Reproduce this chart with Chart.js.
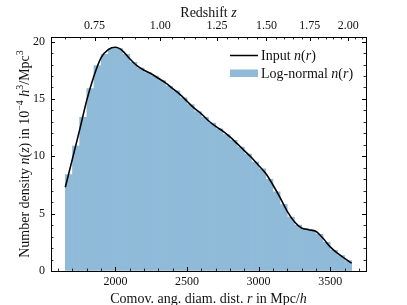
<!DOCTYPE html>
<html><head><meta charset="utf-8">
<script src="https://cdn.jsdelivr.net/npm/chart.js@4.4.1/dist/chart.umd.min.js"></script>
<style>html,body{margin:0;padding:0;background:#fff;} #c{display:block;}</style>
</head><body>
<canvas id="c" width="407" height="305"></canvas>
<script>
// ---- data ----
const binCenters = [1675,1725,1775,1825,1875,1925,1975,2025,2075,2125,2175,2225,2275,2325,2375,2425,2475,2525,2575,2625,
                    2675,2725,2775,2825,2875,2925,2975,3025,3075,3125,3175,3225,3275,3325,3375,3425,3475,3525,3575,3625];
const binHeights = [8.4,10.9,13.4,15.9,17.9,18.9,19.4,19.4,18.9,18.2,17.7,17.3,17.0,16.6,16.1,15.7,15.1,14.5,13.9,13.4,
                    12.9,12.4,11.9,11.4,10.8,10.2,9.5,8.9,8.0,6.9,5.8,4.7,4.0,3.7,3.55,3.2,2.5,1.8,1.35,0.9];
const curveR = [1650,1700,1750,1800,1850,1900,1950,2000,2050,2100,2150,2200,2250,2300,2350,2400,2450,2500,2550,2600,
                2650,2700,2750,2800,2850,2900,2950,3000,3050,3100,3150,3200,3250,3300,3350,3400,3450,3500,3550,3600,3650];
const curveN = [7.3,9.8,12.3,14.9,17.0,18.6,19.3,19.5,19.2,18.5,17.9,17.5,17.2,16.8,16.4,15.9,15.4,14.8,14.2,13.7,
                13.1,12.6,12.2,11.7,11.1,10.5,9.9,9.2,8.5,7.5,6.4,5.2,4.3,3.75,3.6,3.45,2.85,2.1,1.55,1.1,0.68];
const xTickValues = [2000,2500,3000,3500];
const yTickValues = [0,5,10,15,20];
const zTickValues = [0.75,1.00,1.25,1.50,1.75,2.00];
const zTickLabels = ['0.75','1.00','1.25','1.50','1.75','2.00'];

const XMIN = 1550, XMAX = 3750, YMIN = 0, YMAX = 20.4;
const BAR_COLOR = '#8fbbd9';
const SERIF = '"Liberation Serif", "Times New Roman", serif';

// axis transform z -> comoving distance (flat LCDM, Om=0.3, Mpc/h)
function comovingDistance(z){
  const Om = 0.3, n = 400; let s = 0;
  for (let i=0;i<n;i++){ const zz=(i+0.5)*z/n; s += 1/Math.sqrt(Om*Math.pow(1+zz,3)+1-Om); }
  return 2997.92458*s*z/n;
}

function drawRuns(ctx, runs, x, y, size, align, rotate){
  const fontFor = r => `${r.it?'italic ':''}${r.sup?Math.round(size*0.72):size}px ${SERIF}`;
  let w = 0;
  runs.forEach(r=>{ctx.font=fontFor(r); r.w=ctx.measureText(r.t).width; w+=r.w;});
  ctx.save();
  ctx.translate(x,y);
  if (rotate) ctx.rotate(-Math.PI/2);
  ctx.fillStyle='#111'; ctx.textAlign='left'; ctx.textBaseline='alphabetic';
  let px = align==='left' ? 0 : -w/2;
  const base = size*0.33;
  runs.forEach(r=>{ctx.font=fontFor(r); ctx.fillText(r.t, px, base-(r.sup?size*0.42:0)); px+=r.w;});
  ctx.restore();
}

const decorPlugin = {
  id:'decor',
  afterDraw(chart){
    const ctx = chart.ctx, a = chart.chartArea;
    const sx = chart.scales.x, sy = chart.scales.y;
    ctx.save();
    ctx.strokeStyle='#000';
    const tick = (x1,y1,x2,y2,w)=>{ctx.lineWidth=w;ctx.beginPath();ctx.moveTo(x1,y1);ctx.lineTo(x2,y2);ctx.stroke();};
    const MAJ=4, MIN=2.5;
    // bottom
    for (let v=1600; v<=3700; v+=100){
      const major = xTickValues.includes(v);
      const p = Math.round(sx.getPixelForValue(v))+0.5;
      tick(p,a.bottom,p,a.bottom-(major?MAJ:MIN),major?1:0.8);
    }
    // top (redshift)
    for (let k=13; k<=43; k++){
      const z = k*0.05;
      const r = comovingDistance(z);
      if (r<XMIN || r>XMAX) continue;
      const major = zTickValues.some(t=>Math.abs(t-z)<1e-6);
      const p = Math.round(sx.getPixelForValue(r))+0.5;
      tick(p,a.top,p,a.top+(major?MAJ:MIN),major?1:0.8);
    }
    // left & right
    for (let v=0; v<=20; v+=1){
      const major = yTickValues.includes(v);
      const p = Math.round(sy.getPixelForValue(v))+0.5;
      tick(a.left,p,a.left+(major?MAJ:MIN),p,major?1:0.8);
      tick(a.right,p,a.right-(major?MAJ:MIN),p,major?1:0.8);
    }
    ctx.restore();
    // axis titles
    drawRuns(ctx,[{t:'Comov. ang. diam. dist. '},{t:'r',it:1},{t:' in Mpc/'},{t:'h',it:1}],
             (a.left+a.right)/2, 298, 14, 'center', false);
    drawRuns(ctx,[{t:'Redshift '},{t:'z',it:1}], (a.left+a.right)/2, 12, 14, 'center', false);
    drawRuns(ctx,[{t:'Number density '},{t:'n',it:1},{t:'('},{t:'z',it:1},{t:') in 10'},{t:'\u22124',sup:1},
                  {t:' '},{t:'h',it:1},{t:'3',sup:1},{t:'/Mpc'},{t:'3',sup:1}],
             24, (a.top+a.bottom)/2, 14, 'center', true);
    // legend
    ctx.save();
    ctx.strokeStyle='#000'; ctx.lineWidth=1.5;
    ctx.beginPath(); ctx.moveTo(230,55.5); ctx.lineTo(258,55.5); ctx.stroke();
    ctx.fillStyle=BAR_COLOR; ctx.fillRect(230,69.5,28,7.5);
    ctx.restore();
    drawRuns(ctx,[{t:'Input '},{t:'n',it:1},{t:'('},{t:'r',it:1},{t:')'}], 261, 55, 14, 'left', false);
    drawRuns(ctx,[{t:'Log-normal '},{t:'n',it:1},{t:'('},{t:'r',it:1},{t:')'}], 261, 73, 14, 'left', false);
  }
};

const tickFont = {family:SERIF, size:12};
const noGrid = {display:true, drawOnChartArea:false, drawTicks:false};
const border = {display:true, color:'#000', width:1};

new Chart(document.getElementById('c'), {
  data:{
    datasets:[
      {type:'line', label:'Input n(r)', data:curveR.map((r,i)=>({x:r,y:curveN[i]})),
       borderColor:'#000', borderWidth:1.6, pointRadius:0, cubicInterpolationMode:'monotone', fill:false,
       xAxisID:'x', yAxisID:'y'},
      {type:'bar', label:'Log-normal n(r)', data:binCenters.map((r,i)=>({x:r,y:binHeights[i]})),
       backgroundColor:BAR_COLOR, borderWidth:0, barPercentage:1, categoryPercentage:1,
       xAxisID:'x', yAxisID:'y'}
    ]
  },
  options:{
    responsive:false, animation:false, devicePixelRatio:1,
    layout:{padding:0},
    plugins:{legend:{display:false}, tooltip:{enabled:false}},
    scales:{
      x:{type:'linear', position:'bottom', min:XMIN, max:XMAX, offset:false,
         afterBuildTicks:s=>{s.ticks = xTickValues.map(v=>({value:v}));},
         ticks:{font:tickFont, color:'#111', padding:4, maxRotation:0, autoSkip:false,
                callback:v=>String(v)},
         grid:{...noGrid, offset:false}, border, afterFit:s=>{s.height=34;}},
      x2:{type:'linear', position:'top', min:XMIN, max:XMAX, offset:false,
          afterBuildTicks:s=>{s.ticks = zTickValues.map(z=>({value:comovingDistance(z)}));},
          ticks:{font:tickFont, color:'#111', padding:4, maxRotation:0, autoSkip:false,
                 callback:(v,i)=>zTickLabels[i]},
          grid:{...noGrid, offset:false}, border, afterFit:s=>{s.height=37;}},
      y:{type:'linear', position:'left', min:YMIN, max:YMAX,
         afterBuildTicks:s=>{s.ticks = yTickValues.map(v=>({value:v}));},
         ticks:{font:tickFont, color:'#111', padding:6, callback:v=>String(v)},
         grid:noGrid, border, afterFit:s=>{s.width=51;}},
      y2:{type:'linear', position:'right', min:YMIN, max:YMAX,
          afterBuildTicks:s=>{s.ticks = yTickValues.map(v=>({value:v}));},
          ticks:{display:false},
          grid:noGrid, border, afterFit:s=>{s.width=41;}}
    }
  },
  plugins:[decorPlugin]
});
</script>
</body></html>
